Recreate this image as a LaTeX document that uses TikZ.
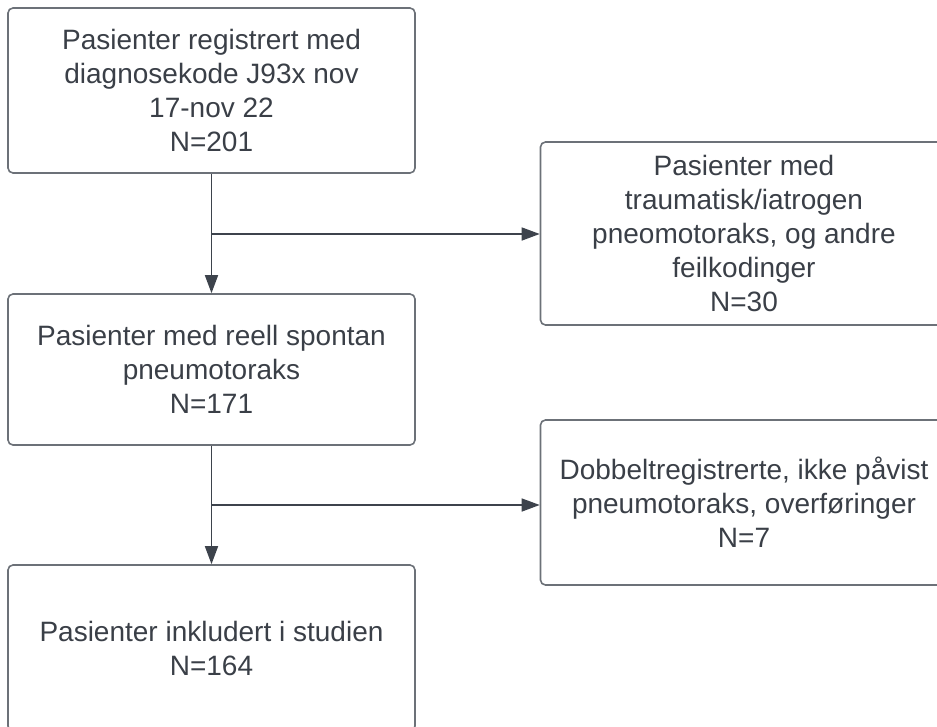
\documentclass[tikz,border=0pt]{standalone}
\usepackage{fontspec}
\setmainfont{Liberation Sans}
\usepackage{tikz}
\usetikzlibrary{arrows.meta}
\definecolor{boxline}{HTML}{6C7178}
\definecolor{boxtext}{HTML}{3A3F47}
\definecolor{pil}{HTML}{3D434C}

\begin{document}
\begin{tikzpicture}[x=1pt,y=-1pt,
    boks/.style={draw=boxline, line width=1.6pt, rounded corners=5pt, align=center,
        text=boxtext, minimum width=407pt, inner sep=0pt,
        font=\fontsize{28}{34}\selectfont},
    pilen/.style={draw=pil, line width=1.5pt, -{Triangle[length=18pt,width=13pt]}},
    linje/.style={draw=pil, line width=1.5pt}]
    \useasboundingbox (0,0) rectangle (937,726);
    \clip (0,0) rectangle (937,726);
    % venstre kolonne
    \node[boks, minimum height=165pt] (reg) at (211.5,90.5) {Pasienter registrert med\\diagnosekode J93x nov\\17-nov 22\\N=201};
    \node[boks, minimum height=151pt] (reell) at (211.5,369.5) {Pasienter med reell spontan\\pneumotoraks\\N=171};
    \node[boks, minimum height=166pt] (inkl) at (211.5,648) {Pasienter inkludert i studien\\N=164};
    % ekskluderte
    \node[boks, minimum height=183pt] (feil) at (744,233.5) {Pasienter med\\traumatisk/iatrogen\\pneomotoraks, og andre\\feilkodinger\\N=30};
    \node[boks, minimum height=165pt] (dobbel) at (744,502.5) {Dobbeltregistrerte, ikke påvist\\pneumotoraks, overføringer\\N=7};
    % piler
    \coordinate (g1) at (211.5,234);
    \coordinate (g2) at (211.5,505);
    \draw[pilen] (reg.south) -- (reell.north);
    \draw[pilen] (g1) -- (g1 -| feil.west);
    \draw[pilen] (reell.south) -- (inkl.north);
    \draw[pilen] (g2) -- (g2 -| dobbel.west);
\end{tikzpicture}
\end{document}
